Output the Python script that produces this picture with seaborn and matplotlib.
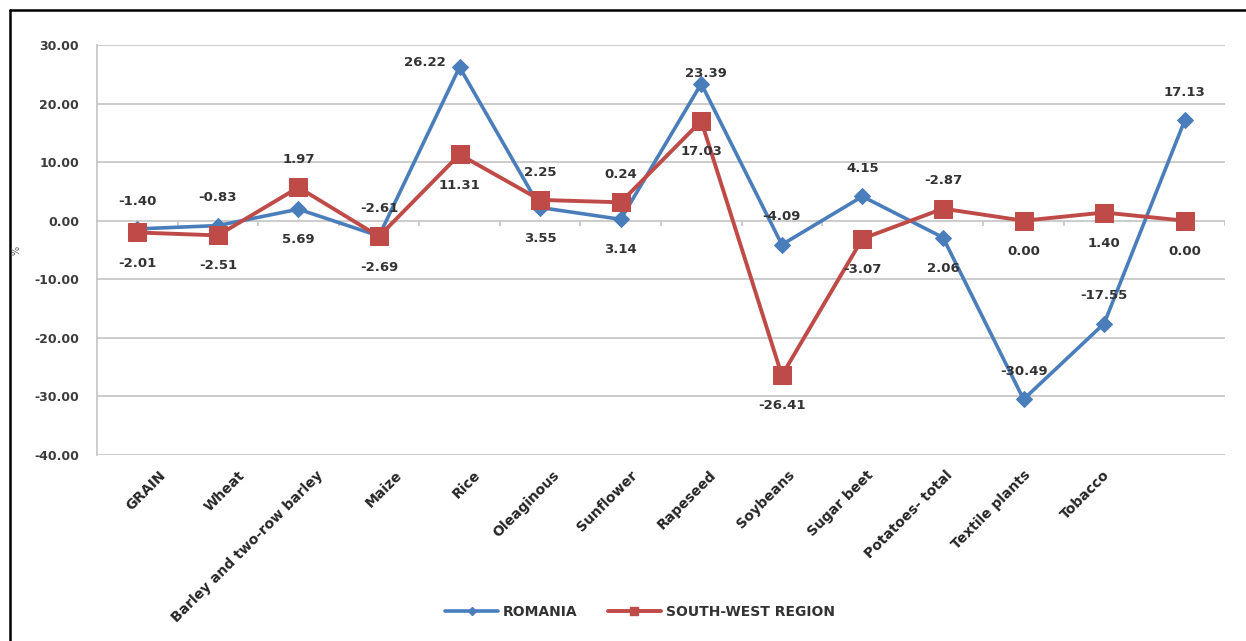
import numpy as np
import pandas as pd
import matplotlib
matplotlib.use("Agg")
import matplotlib.pyplot as plt
import seaborn as sns
from matplotlib.lines import Line2D

# ---------------- data ----------------
crops = ["GRAIN", "Wheat", "Barley and two-row barley", "Maize", "Rice",
         "Oleaginous", "Sunflower", "Rapeseed", "Soybeans", "Sugar beet",
         "Potatoes- total", "Textile plants", "Tobacco", ""]
romania = [-1.40, -0.83, 1.97, -2.61, 26.22, 2.25, 0.24, 23.39, -4.09, 4.15,
           -2.87, -30.49, -17.55, 17.13]
south_west = [-2.01, -2.51, 5.69, -2.69, 11.31, 3.55, 3.14, 17.03, -26.41,
              -3.07, 2.06, 0.00, 1.40, 0.00]
series_names = ["ROMANIA", "SOUTH-WEST REGION"]
y_ticks = [30, 20, 10, 0, -10, -20, -30, -40]
y_label = "%"

# ---------------- style ----------------
BLUE = "#4A7EBB"
RED = "#BE4B48"
GRID = "#c3c3c3"
TXT = "#333333"

sns.set_style("white")
plt.rcParams["font.family"] = ["DejaVu Sans"]

W, H, DPI = 1246, 641, 100
fig = plt.figure(figsize=(W / DPI, H / DPI), dpi=DPI)
ax = fig.add_axes([97 / W, 1 - 455 / H, (1225 - 97) / W, (455 - 45) / H])

n = len(crops)
df = pd.DataFrame({"pos": np.arange(n), "ro": romania, "sw": south_west})

sns.lineplot(data=df, x="pos", y="ro", ax=ax, color=BLUE, lw=2.6,
             marker="D", markersize=8.5, markeredgecolor=BLUE, zorder=3)
sns.lineplot(data=df, x="pos", y="sw", ax=ax, color=RED, lw=2.8,
             marker="s", markersize=12.5, markeredgecolor=RED, zorder=4)

ax.set_xlim(-0.5, n - 0.5)
ax.set_ylim(min(y_ticks), max(y_ticks))
ax.set_yticks(y_ticks)
ax.set_yticklabels([f"{v:.2f}" for v in y_ticks])
ax.set_xlabel("")
ax.set_ylabel("")

ax.yaxis.grid(True, color=GRID, lw=1.2)
ax.xaxis.grid(False)
for s in ["top", "right", "bottom"]:
    ax.spines[s].set_visible(False)
ax.spines["left"].set_color(GRID)
ax.spines["left"].set_linewidth(1.2)
ax.tick_params(axis="y", length=4, width=1.2, color=GRID, pad=9,
               labelsize=9, labelcolor="#3c3c3c")
for t in ax.get_yticklabels():
    t.set_fontweight("bold")

# category labels (slightly offset, as in the original)
label_pos = 0.33 + 0.976 * np.arange(n)
ax.set_xticks(label_pos)
ax.set_xticklabels(crops, rotation=45, ha="right", va="center",
                   rotation_mode="anchor", fontsize=10, fontweight="bold",
                   color="#262626")
ax.tick_params(axis="x", length=0, pad=13)

# category boundary ticks on the zero line
ax.vlines(np.arange(n) + 0.5, -0.85, 0, color=GRID, lw=1.2, zorder=2)

# data labels
ro_over = {4: (-25, 3.5), 7: (3.5, 7)}
for i in range(n):
    r, s = romania[i], south_west[i]
    close = abs(r - s) < 10
    ra = max(r, s) if close else r
    sa = min(r, s) if close else s
    dx, dy = ro_over.get(i, (0, 20))
    ax.annotate(f"{r:.2f}", xy=(i, ra), xytext=(dx, dy), textcoords="offset points",
                ha="center", va="center", fontsize=9.5, fontweight="bold",
                color=TXT, zorder=6)
    ax.annotate(f"{s:.2f}", xy=(i, sa), xytext=(0, -22), textcoords="offset points",
                ha="center", va="center", fontsize=9.5, fontweight="bold",
                color=TXT, zorder=6)

fig.text(16 / W, 1 - 250 / H, y_label, rotation=90, fontsize=7,
         color="#595959", ha="center", va="center")

# legend
handles = [
    Line2D([], [], color=BLUE, lw=2.6, marker="D", markersize=4.5),
    Line2D([], [], color=RED, lw=2.8, marker="s", markersize=6),
]
leg = fig.legend(handles, series_names, loc="center",
                 bbox_to_anchor=(640 / W, 1 - 612 / H), ncol=2, frameon=False,
                 handlelength=3.8, handletextpad=0.35, columnspacing=2.2,
                 prop={"size": 10, "weight": "bold"})
for t in leg.get_texts():
    t.set_color("#333333")

# outer frame (top and left edges)
fig.add_artist(Line2D([10 / W, 1], [1 - 10 / H, 1 - 10 / H],
                      transform=fig.transFigure, color="black", lw=1.8))
fig.add_artist(Line2D([10 / W, 10 / W], [0, 1 - 10 / H],
                      transform=fig.transFigure, color="black", lw=1.8))

fig.savefig("out.png", dpi=DPI)
